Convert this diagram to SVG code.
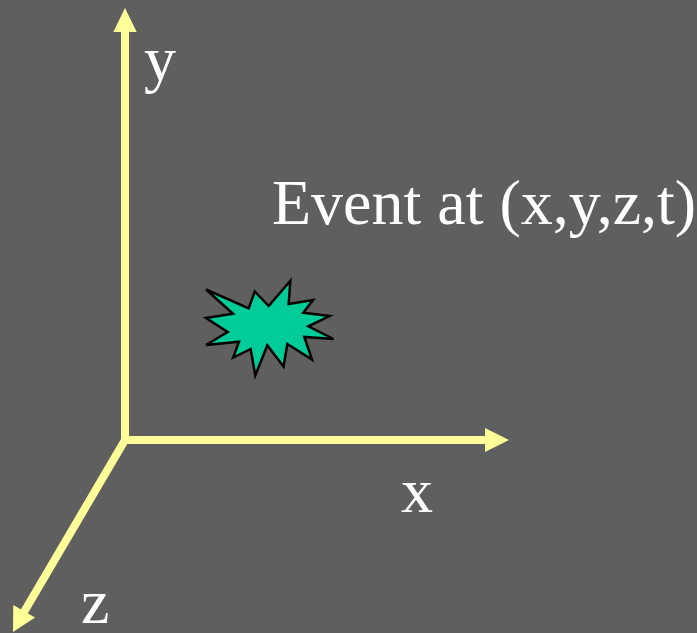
<svg xmlns="http://www.w3.org/2000/svg" width="697" height="633" viewBox="0 0 697 633">
<style>
.axis{stroke:#ffff99;stroke-width:8;fill:none}
.head{fill:#ffff99;stroke:none}
.t{font-family:"Liberation Serif","Times New Roman",serif;font-size:64px;fill:#fff}
</style>
<rect width="697" height="633" fill="#5f5f5f"/>
<g id="connectors">
<line class="axis" x1="125" y1="444" x2="125" y2="30"/>
<polygon class="head" points="125,8 136.7,32 113.3,32"/>
<line class="axis" x1="121" y1="440" x2="487" y2="440"/>
<polygon class="head" points="509,440 485,428 485,452"/>
<line class="axis" x1="125" y1="440" x2="24" y2="612"/>
<polygon class="head" points="13,632 13.3,605 35,617.5"/>
</g>
<g id="event">
<polygon points="206,289.5 248.7,308.3 254.8,291.5 268.7,306 290.3,281 288.7,304 313,300 303.3,312.7 329.5,316 308.3,326.3 333.5,339 304.3,337 312,359.5 287.3,344 283.5,366.5 267.3,345.3 255.3,375.5 250.7,349 233.2,357.5 239,341.7 206,345 227.7,332 206,318 233,313.7" fill="#00cc99" stroke="#000" stroke-width="2.5"/>
</g>
<g id="labels">
<text class="t" x="144" y="80">y</text>
<text class="t" x="272" y="224">Event at (x,y,z,t)</text>
<text class="t" x="401" y="511.5">x</text>
<text class="t" x="81" y="623">z</text>
</g>
</svg>
